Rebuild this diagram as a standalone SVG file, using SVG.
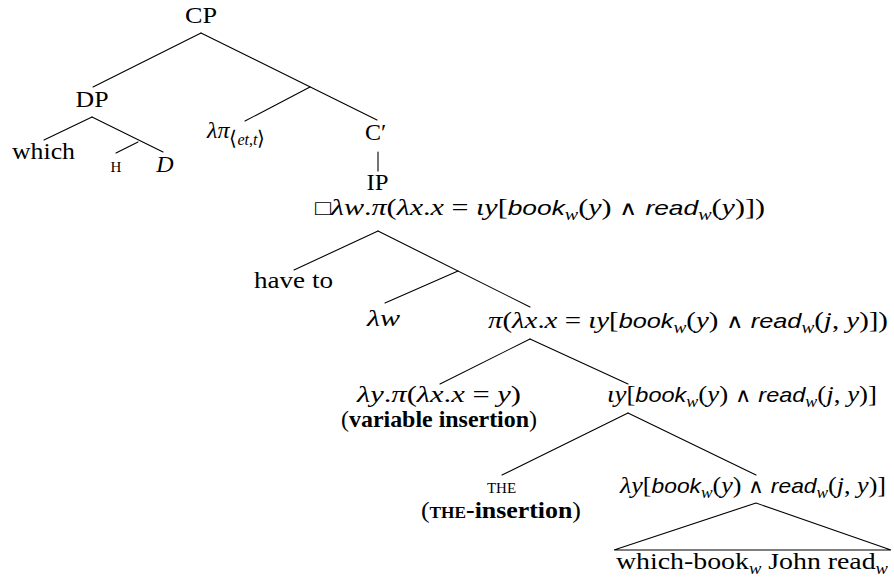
<svg xmlns="http://www.w3.org/2000/svg" width="894" height="577" viewBox="0 0 894 577">
<style>
text { font-family: "Liberation Serif", "DejaVu Serif", serif; font-size: 24px; fill: #000; }
.i { font-style: italic; }
.sf { font-family: "Liberation Sans", "DejaVu Sans", sans-serif; font-style: italic; font-size: 21px; }
.sub { font-size: 16px; font-style: italic; }
.sc { font-size: 15px; }
.b { font-weight: bold; }
.sym { font-family: "DejaVu Sans", sans-serif; font-size: 20px; font-weight: 200; }
.box { font-family: "DejaVu Sans", sans-serif; font-size: 21px; font-weight: 200; }
.edges line, .edges polygon { stroke: #000; stroke-width: 1.1; fill: none; stroke-linecap: round; }
</style>
<rect width="894" height="577" fill="#fff"/>
<g id="connectors" class="edges">
<line x1="201" y1="33" x2="93" y2="87"/>
<line x1="201" y1="33" x2="377" y2="120"/>
<line x1="310" y1="87" x2="245" y2="121"/>
<line x1="92" y1="117" x2="44" y2="140"/>
<line x1="92" y1="117" x2="163" y2="152"/>
<line x1="138" y1="142" x2="116" y2="153"/>
<line x1="378" y1="152" x2="378" y2="171"/>
<line x1="378" y1="231" x2="294" y2="270"/>
<line x1="378" y1="231" x2="530" y2="307"/>
<line x1="458" y1="271" x2="385" y2="303"/>
<line x1="530" y1="339" x2="440" y2="384"/>
<line x1="530" y1="339" x2="628" y2="384"/>
<line x1="628" y1="413" x2="502" y2="475"/>
<line x1="628" y1="413" x2="756" y2="475"/>
<polygon points="756,503 614,550 891,550"/>
</g>
<g id="n-cp"><text x="201" y="23" text-anchor="middle" textLength="32" lengthAdjust="spacingAndGlyphs">CP</text></g>
<g id="n-dp"><text x="92" y="107" text-anchor="middle" textLength="33" lengthAdjust="spacingAndGlyphs">DP</text></g>
<g id="n-which"><text x="12" y="159" textLength="63" lengthAdjust="spacingAndGlyphs">which</text></g>
<g id="n-h"><text x="116" y="172" text-anchor="middle" class="sc">H</text></g>
<g id="n-d"><text x="165" y="172" text-anchor="middle" class="i">D</text></g>
<g id="n-lambda-pi"><text x="207" y="138"><tspan class="i">λπ</tspan><tspan font-size="16" dy="7"><tspan class="sym" font-size="16">⟨</tspan><tspan class="i">et</tspan>,<tspan class="i">t</tspan><tspan class="sym" font-size="16">⟩</tspan></tspan></text></g>
<g id="n-cbar"><text x="365" y="140">C′</text></g>
<g id="n-ip"><text x="377.5" y="190" text-anchor="middle" textLength="22" lengthAdjust="spacingAndGlyphs">IP</text></g>
<g id="n-ip-sem"><text x="315" y="215" textLength="450" lengthAdjust="spacingAndGlyphs"><tspan class="box">□</tspan><tspan class="i">λw</tspan>.<tspan class="i">π</tspan>(<tspan class="i">λx</tspan>.<tspan class="i">x</tspan> = <tspan class="i">ιy</tspan>[<tspan class="sf">book</tspan><tspan class="sub" dy="5">w</tspan><tspan dy="-5">(</tspan><tspan class="i">y</tspan>) <tspan class="sym">∧</tspan> <tspan class="sf">read</tspan><tspan class="sub" dy="5">w</tspan><tspan dy="-5">(</tspan><tspan class="i">y</tspan>)])</text></g>
<g id="n-have-to"><text x="254" y="288" textLength="79" lengthAdjust="spacingAndGlyphs">have to</text></g>
<g id="n-lambda-w"><text x="367" y="326" class="i" textLength="33" lengthAdjust="spacingAndGlyphs">λw</text></g>
<g id="n-pi-sem"><text x="488" y="328" textLength="400" lengthAdjust="spacingAndGlyphs"><tspan class="i">π</tspan>(<tspan class="i">λx</tspan>.<tspan class="i">x</tspan> = <tspan class="i">ιy</tspan>[<tspan class="sf">book</tspan><tspan class="sub" dy="5">w</tspan><tspan dy="-5">(</tspan><tspan class="i">y</tspan>) <tspan class="sym">∧</tspan> <tspan class="sf">read</tspan><tspan class="sub" dy="5">w</tspan><tspan dy="-5">(</tspan><tspan class="i">j</tspan>, <tspan class="i">y</tspan>)])</text></g>
<g id="n-var"><text x="357" y="402" textLength="164" lengthAdjust="spacingAndGlyphs"><tspan class="i">λy</tspan>.<tspan class="i">π</tspan>(<tspan class="i">λx</tspan>.<tspan class="i">x</tspan> = <tspan class="i">y</tspan>)</text><text x="341" y="427" textLength="196" lengthAdjust="spacingAndGlyphs">(<tspan class="b">variable insertion</tspan>)</text></g>
<g id="n-iota"><text x="607" y="402" textLength="270" lengthAdjust="spacingAndGlyphs"><tspan class="i">ιy</tspan>[<tspan class="sf">book</tspan><tspan class="sub" dy="5">w</tspan><tspan dy="-5">(</tspan><tspan class="i">y</tspan>) <tspan class="sym">∧</tspan> <tspan class="sf">read</tspan><tspan class="sub" dy="5">w</tspan><tspan dy="-5">(</tspan><tspan class="i">j</tspan>, <tspan class="i">y</tspan>)]</text></g>
<g id="n-the"><text x="501.5" y="493" text-anchor="middle" class="sc">THE</text><text x="501" y="518" text-anchor="middle" textLength="160" lengthAdjust="spacingAndGlyphs">(<tspan class="b" font-size="16">THE</tspan><tspan class="b">-insertion</tspan>)</text></g>
<g id="n-lambda-y"><text x="620" y="493" textLength="266" lengthAdjust="spacingAndGlyphs"><tspan class="i">λy</tspan>[<tspan class="sf">book</tspan><tspan class="sub" dy="5">w</tspan><tspan dy="-5">(</tspan><tspan class="i">y</tspan>) <tspan class="sym">∧</tspan> <tspan class="sf">read</tspan><tspan class="sub" dy="5">w</tspan><tspan dy="-5">(</tspan><tspan class="i">j</tspan>, <tspan class="i">y</tspan>)]</text></g>
<g id="n-which-book"><text x="752" y="569" text-anchor="middle" textLength="272" lengthAdjust="spacingAndGlyphs">which-book<tspan class="sub" dy="5">w</tspan><tspan dy="-5"> John read</tspan><tspan class="sub" dy="5">w</tspan></text></g>
</svg>
